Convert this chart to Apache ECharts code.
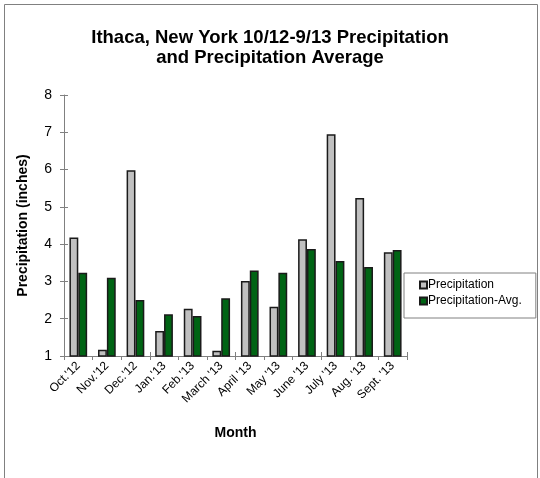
<!DOCTYPE html>
<html><head><meta charset="utf-8">
<script src="https://cdn.jsdelivr.net/npm/echarts@6/dist/echarts.min.js"></script>
<style>html,body{margin:0;padding:0;background:#fff}#c{width:540px;height:478px}</style>
</head><body><div id="c"></div>
<script>
var months = ["Oct.'12","Nov.'12","Dec.'12","Jan.'13","Feb.'13","March '13","April '13","May '13","June '13","July '13","Aug. '13","Sept. '13"];
var precipitation = [4.18,1.17,5.98,1.67,2.27,1.14,3.01,2.32,4.13,6.95,5.24,3.78];
var precipitationAvg = [3.23,3.10,2.50,2.12,2.07,2.55,3.29,3.23,3.87,3.55,3.39,3.84];
var yTicks = [1,2,3,4,5,6,7,8];

var chart = echarts.init(document.getElementById('c'), null, {renderer:'canvas'});
var font = 'Liberation Sans, Arial, sans-serif';
var axisGrey = '#808080';
chart.setOption({
  animation:false,
  textStyle:{fontFamily:font},
  graphic:[{type:'rect',shape:{x:4.5,y:4.5,width:533,height:490},style:{fill:'none',stroke:axisGrey,lineWidth:1},silent:true}],
  title:{
    text:'Ithaca, New York 10/12-9/13 Precipitation\nand Precipitation Average',
    left:'center', top:23, padding:[5,12,5,5],
    textStyle:{fontSize:18.5,fontWeight:'bold',color:'#000',fontFamily:font,lineHeight:20}
  },
  legend:{
    orient:'vertical', left:404, top:273,
    padding:[6,14,11,15],
    itemGap:4,
    itemWidth:7, itemHeight:7,
    borderColor:axisGrey, borderWidth:1,
    textStyle:{fontSize:12,color:'#000',fontFamily:font,padding:[0,0,0,-4]},
    data:[{name:'Precipitation',icon:'rect'},{name:'Precipitation-Avg.',icon:'rect'}]
  },
  grid:{left:64,right:133,top:95,bottom:122},
  xAxis:[{
    type:'category', data:months,
    name:'Month', nameLocation:'middle', nameGap:70,
    nameTextStyle:{fontSize:14,fontWeight:'bold',color:'#000',fontFamily:font},
    axisLine:{lineStyle:{color:axisGrey}},
    axisTick:{show:true,length:4,lineStyle:{color:axisGrey}},
    axisLabel:{rotate:45,fontSize:12,color:'#000',margin:8,interval:0,fontFamily:font}
  },{
    type:'category', data:months, position:'bottom',
    axisLine:{show:false},
    axisTick:{show:true,inside:true,length:4,lineStyle:{color:axisGrey}},
    axisLabel:{show:false}
  }],
  yAxis:[{
    type:'value', min:yTicks[0], max:yTicks[yTicks.length-1], interval:1,
    name:'Precipitation (inches)', nameLocation:'middle', nameGap:34,
    nameTextStyle:{fontSize:14,fontWeight:'bold',color:'#000',fontFamily:font},
    axisLine:{show:true,lineStyle:{color:axisGrey}},
    axisTick:{show:true,length:4,lineStyle:{color:axisGrey}},
    splitLine:{show:false},
    axisLabel:{fontSize:14,color:'#000',margin:12,fontFamily:font}
  },{
    type:'value', min:yTicks[0], max:yTicks[yTicks.length-1], interval:1, position:'left',
    axisLine:{show:false},
    axisTick:{show:true,inside:true,length:4,lineStyle:{color:axisGrey}},
    splitLine:{show:false},
    axisLabel:{show:false}
  }],
  series:[
    {name:'Precipitation',type:'bar',data:precipitation,barGap:'0%',barCategoryGap:'38%',
     itemStyle:{color:'#c0c0c0',borderColor:'#1a1a1a',borderWidth:1.5}},
    {name:'Precipitation-Avg.',type:'bar',data:precipitationAvg,
     itemStyle:{color:'#006414',borderColor:'#1a1a1a',borderWidth:1.5}}
  ]
});
</script></body></html>
